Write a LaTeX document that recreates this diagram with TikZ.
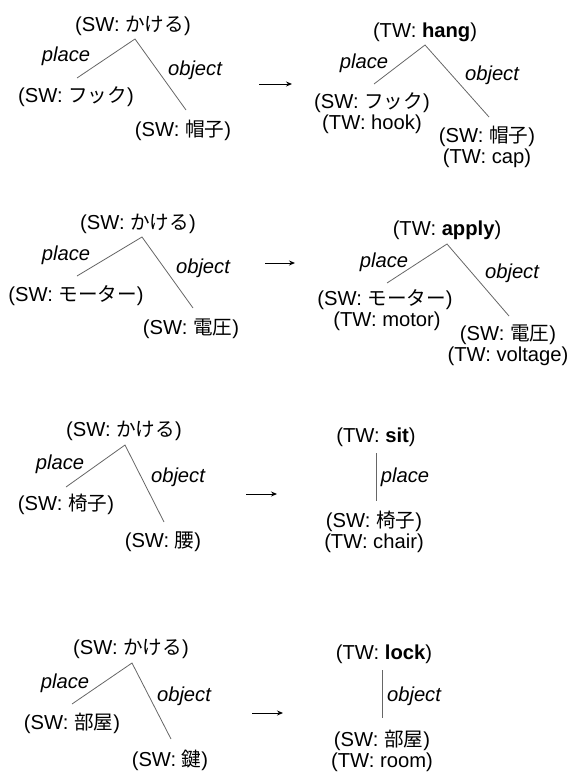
\documentclass[tikz,border=0pt]{standalone}
\usepackage{fontspec}
\setmainfont{Liberation Sans}
\newfontfamily\jp[Scale=0.97]{Noto Sans CJK JP}
\usetikzlibrary{arrows.meta}
\tikzset{
  txt/.style={inner sep=0pt, anchor=center, font=\fontsize{20.2}{21}\selectfont, text height=14.6pt, text depth=4.2pt},
  lbl/.style={txt, font=\fontsize{20.2}{21}\selectfont\itshape},
  edge/.style={draw=black!60, line width=0.8pt},
  arr/.style={draw=black, line width=0.9pt, -{Stealth[length=6pt,width=5pt]}}
}
\begin{document}
\begin{tikzpicture}[x=1pt,y=-1pt]
\useasboundingbox (0,0) rectangle (572,773);
% ---------- Block 1 ----------
\node[txt] (t1L) at (133,26) {(SW: {\jp かける})};
\coordinate (a1L) at (135,39);
\coordinate (p1L) at (77,78);
\coordinate (o1L) at (186,110);
\draw[edge] (p1L) -- (a1L) -- (o1L);
\node[lbl] (lp1L) at (66,56) {place};
\node[lbl] (lo1L) at (195,70) {object};
\node[txt] (c1La) at (76,97) {(SW: {\jp フック})};
\node[txt] (c1Lb) at (183,131) {(SW: {\jp 帽子})};
\coordinate (s1) at (259,84);
\coordinate (e1) at (292,84);
\draw[arr] (s1) -- (e1);
\node[txt] (t1R) at (425,32) {(TW: \textbf{hang})};
\coordinate (a1R) at (425,45);
\coordinate (p1R) at (374,84);
\coordinate (o1R) at (489,117);
\draw[edge] (p1R) -- (a1R) -- (o1R);
\node[lbl] (lp1R) at (364,63) {place};
\node[lbl] (lo1R) at (492,75) {object};
\node[txt] (c1Ra) at (372,103) {(SW: {\jp フック})};
\node[txt] (c1Rb) at (372,124) {(TW: hook)};
\node[txt] (c1Rc) at (487,137) {(SW: {\jp 帽子})};
\node[txt] (c1Rd) at (487,158) {(TW: cap)};
% ---------- Block 2 ----------
\node[txt] (t2L) at (138,224) {(SW: {\jp かける})};
\coordinate (a2L) at (142,237);
\coordinate (p2L) at (77,276);
\coordinate (o2L) at (193,308);
\draw[edge] (p2L) -- (a2L) -- (o2L);
\node[lbl] (lp2L) at (66,255) {place};
\node[lbl] (lo2L) at (203,268) {object};
\node[txt] (c2La) at (76,296) {(SW: {\jp モーター})};
\node[txt] (c2Lb) at (191,329) {(SW: {\jp 電圧})};
\coordinate (s2) at (265,263);
\coordinate (e2) at (295,263);
\draw[arr] (s2) -- (e2);
\node[txt] (t2R) at (447,230) {(TW: \textbf{apply})};
\coordinate (a2R) at (447,244);
\coordinate (p2R) at (387,283);
\coordinate (o2R) at (509,316);
\draw[edge] (p2R) -- (a2R) -- (o2R);
\node[lbl] (lp2R) at (384,262) {place};
\node[lbl] (lo2R) at (512,273) {object};
\node[txt] (c2Ra) at (385,300) {(SW: {\jp モーター})};
\node[txt] (c2Rb) at (387,321) {(TW: motor)};
\node[txt] (c2Rc) at (508,335) {(SW: {\jp 電圧})};
\node[txt] (c2Rd) at (508,356) {(TW: voltage)};
% ---------- Block 3 ----------
\node[txt] (t3L) at (124,431) {(SW: {\jp かける})};
\coordinate (a3L) at (125,445);
\coordinate (p3L) at (66,487);
\coordinate (o3L) at (164,522);
\draw[edge] (p3L) -- (a3L) -- (o3L);
\node[lbl] (lp3L) at (60,464) {place};
\node[lbl] (lo3L) at (178,477) {object};
\node[txt] (c3La) at (66,505) {(SW: {\jp 椅子})};
\node[txt] (c3Lb) at (163,542) {(SW: {\jp 腰})};
\coordinate (s3) at (246,494);
\coordinate (e3) at (277,494);
\draw[arr] (s3) -- (e3);
\node[txt] (t3R) at (376,437) {(TW: \textbf{sit})};
\coordinate (a3R) at (376,453);
\coordinate (p3R) at (376,501);
\draw[edge] (a3R) -- (p3R);
\node[lbl] (lp3R) at (405,477) {place};
\node[txt] (c3Ra) at (374,522) {(SW: {\jp 椅子})};
\node[txt] (c3Rb) at (374,543) {(TW: chair)};
% ---------- Block 4 ----------
\node[txt] (t4L) at (131,649) {(SW: {\jp かける})};
\coordinate (a4L) at (132,663);
\coordinate (p4L) at (72,704);
\coordinate (o4L) at (171,739);
\draw[edge] (p4L) -- (a4L) -- (o4L);
\node[lbl] (lp4L) at (65,683) {place};
\node[lbl] (lo4L) at (184,696) {object};
\node[txt] (c4La) at (72,724) {(SW: {\jp 部屋})};
\node[txt] (c4Lb) at (170,761) {(SW: {\jp 鍵})};
\coordinate (s4) at (252,713);
\coordinate (e4) at (283,713);
\draw[arr] (s4) -- (e4);
\node[txt] (t4R) at (384,654) {(TW: \textbf{lock})};
\coordinate (a4R) at (382,670);
\coordinate (o4R) at (382,718);
\draw[edge] (a4R) -- (o4R);
\node[lbl] (lo4R) at (414,696) {object};
\node[txt] (c4Ra) at (382,741) {(SW: {\jp 部屋})};
\node[txt] (c4Rb) at (382,762) {(TW: room)};
\end{tikzpicture}
\end{document}
